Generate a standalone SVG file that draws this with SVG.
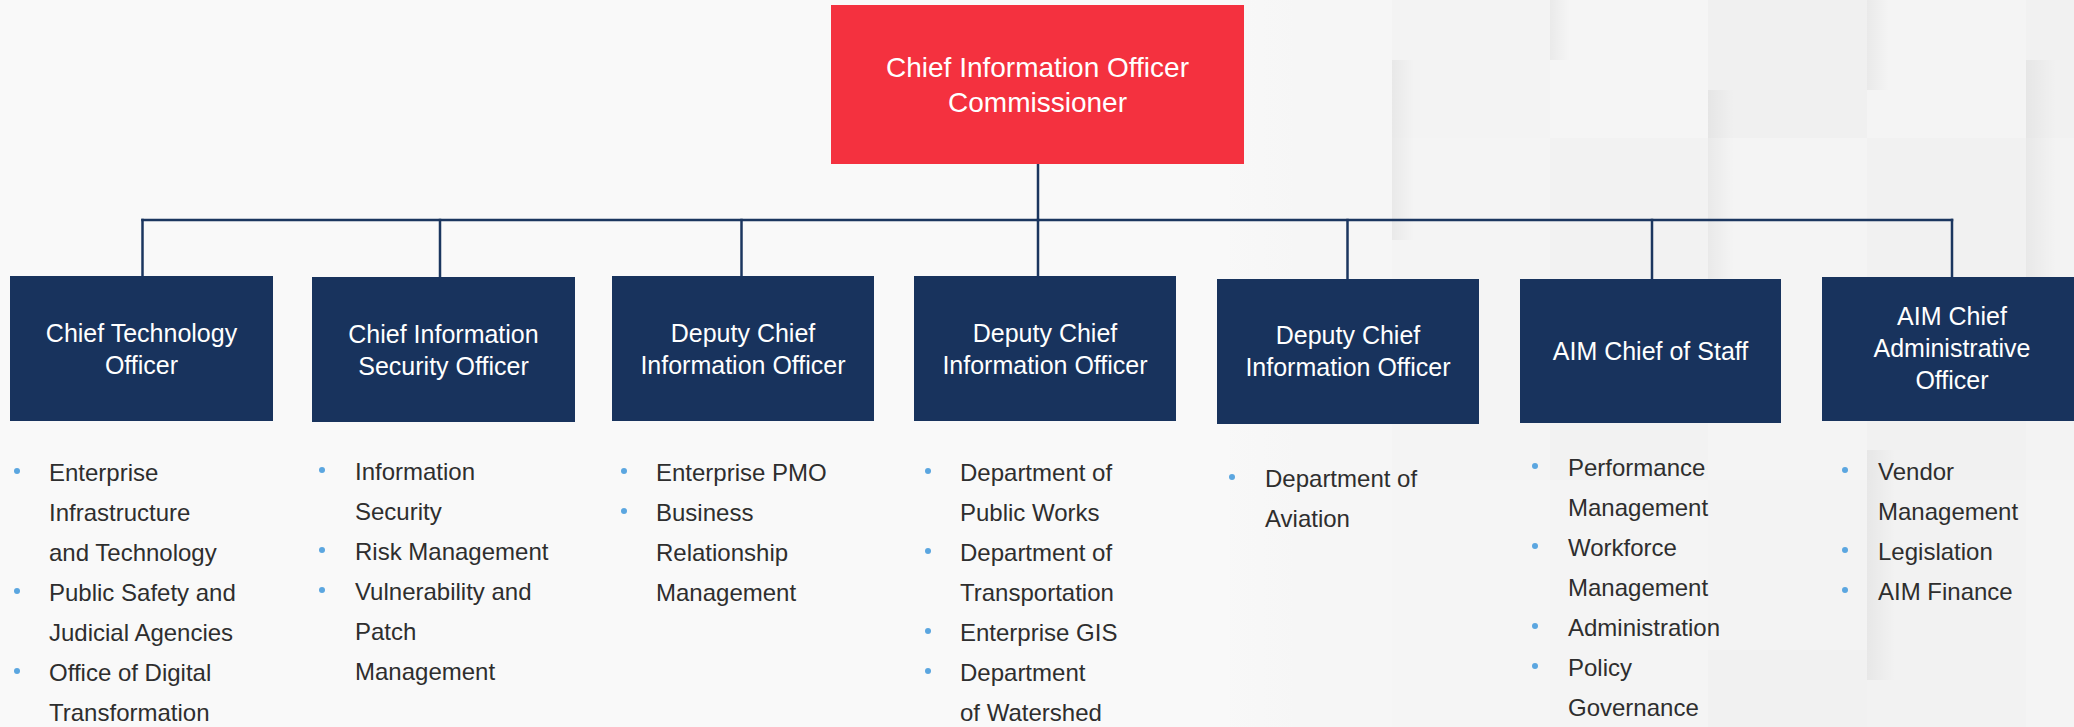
<svg xmlns="http://www.w3.org/2000/svg" width="2074" height="727" viewBox="0 0 2074 727">
  <style>
    .bg { fill: #f9f9f9; }
    .top { fill: #f4313f; }
    .unit { fill: #18335d; }
    .title { font-family: "Liberation Sans", Arial, sans-serif; font-size: 28px; fill: #ffffff; text-anchor: middle; }
    .label { font-family: "Liberation Sans", Arial, sans-serif; font-size: 25px; fill: #ffffff; text-anchor: middle; }
    .item { font-family: "Liberation Sans", Arial, sans-serif; font-size: 24px; fill: #2e2e2e; }
    .dot { fill: #5ba6e0; }
    .link { stroke: #1b365f; stroke-width: 2.5; fill: none; stroke-linecap: square; }
  </style>
  <defs>
    <linearGradient id="fadeIn" x1="0" y1="0" x2="1" y2="0">
      <stop offset="0" stop-color="#f9f9f9" stop-opacity="1"/>
      <stop offset="1" stop-color="#f9f9f9" stop-opacity="0"/>
    </linearGradient>
    <linearGradient id="shade" x1="0" y1="0" x2="1" y2="0">
      <stop offset="0" stop-color="#000000" stop-opacity="0.045"/>
      <stop offset="1" stop-color="#000000" stop-opacity="0"/>
    </linearGradient>
    <linearGradient id="shadeV" x1="0" y1="0" x2="0" y2="1">
      <stop offset="0" stop-color="#ffffff" stop-opacity="0"/>
      <stop offset="0.5" stop-color="#ffffff" stop-opacity="1"/>
      <stop offset="1" stop-color="#ffffff" stop-opacity="0"/>
    </linearGradient>
  </defs>

  <!-- background with soft tiled panels on the right -->
  <rect class="bg" x="0" y="0" width="2074" height="727"/>
  <g id="panels">
    <rect x="1230" y="0" width="162" height="727" fill="#f6f6f6"/>
    <rect x="1392" y="0" width="158" height="138" fill="#f3f3f3"/>
    <rect x="1550" y="0" width="158" height="138" fill="#f5f5f5"/>
    <rect x="1708" y="0" width="159" height="138" fill="#f0f0f0"/>
    <rect x="1867" y="0" width="159" height="138" fill="#f4f4f4"/>
    <rect x="2026" y="0" width="48" height="138" fill="#f1f1f1"/>
    <rect x="1392" y="138" width="158" height="342" fill="#f4f4f4"/>
    <rect x="1550" y="138" width="158" height="342" fill="#f2f2f2"/>
    <rect x="1708" y="138" width="159" height="342" fill="#f4f4f4"/>
    <rect x="1867" y="138" width="159" height="342" fill="#f1f1f1"/>
    <rect x="2026" y="138" width="48" height="342" fill="#f3f3f3"/>
    <rect x="1392" y="480" width="158" height="247" fill="#f5f5f5"/>
    <rect x="1550" y="480" width="158" height="247" fill="#f4f4f4"/>
    <rect x="1708" y="480" width="159" height="170" fill="#f3f3f3"/>
    <rect x="1708" y="650" width="159" height="77" fill="#f1f1f1"/>
    <rect x="1867" y="480" width="159" height="247" fill="#f2f2f2"/>
    <rect x="2026" y="480" width="48" height="247" fill="#f4f4f4"/>
    <rect x="1392" y="60" width="22" height="180" fill="url(#shade)"/>
    <rect x="1708" y="90" width="26" height="240" fill="url(#shade)"/>
    <rect x="1867" y="0" width="22" height="90" fill="url(#shade)"/>
    <rect x="1867" y="450" width="28" height="230" fill="url(#shade)"/>
    <rect x="2026" y="60" width="30" height="280" fill="url(#shade)"/>
    <rect x="1550" y="0" width="20" height="60" fill="url(#shade)"/>
    <rect x="1180" y="0" width="120" height="727" fill="url(#fadeIn)"/>
  </g>

  <!-- reporting lines -->
  <g id="connectors">
    <line class="link" x1="1038" y1="164" x2="1038" y2="220"/>
    <line class="link" x1="142.5" y1="220" x2="1952" y2="220"/>
    <line class="link" x1="142.5" y1="220" x2="142.5" y2="276"/>
    <line class="link" x1="440" y1="220" x2="440" y2="277"/>
    <line class="link" x1="741.5" y1="220" x2="741.5" y2="276"/>
    <line class="link" x1="1038" y1="220" x2="1038" y2="276"/>
    <line class="link" x1="1347.5" y1="220" x2="1347.5" y2="279"/>
    <line class="link" x1="1652" y1="220" x2="1652" y2="279"/>
    <line class="link" x1="1952" y1="220" x2="1952" y2="277"/>
  </g>

  <g id="cio">
    <rect class="top" x="831" y="5" width="413" height="159"/>
    <text class="title" x="1037.5" y="77">Chief Information Officer</text>
    <text class="title" x="1037.5" y="112">Commissioner</text>
  </g>

  <g id="cto">
    <rect class="unit" x="10" y="276" width="263" height="145"/>
    <text class="label" x="141.5" y="342">Chief Technology</text>
    <text class="label" x="141.5" y="374">Officer</text>
  </g>
  <g id="ciso">
    <rect class="unit" x="312" y="277" width="263" height="145"/>
    <text class="label" x="443.5" y="343">Chief Information</text>
    <text class="label" x="443.5" y="375">Security Officer</text>
  </g>
  <g id="dcio-1">
    <rect class="unit" x="612" y="276" width="262" height="145"/>
    <text class="label" x="743" y="342">Deputy Chief</text>
    <text class="label" x="743" y="374">Information Officer</text>
  </g>
  <g id="dcio-2">
    <rect class="unit" x="914" y="276" width="262" height="145"/>
    <text class="label" x="1045" y="342">Deputy Chief</text>
    <text class="label" x="1045" y="374">Information Officer</text>
  </g>
  <g id="dcio-3">
    <rect class="unit" x="1217" y="279" width="262" height="145"/>
    <text class="label" x="1348" y="344">Deputy Chief</text>
    <text class="label" x="1348" y="376">Information Officer</text>
  </g>
  <g id="chief-of-staff">
    <rect class="unit" x="1520" y="279" width="261" height="144"/>
    <text class="label" x="1650.5" y="360">AIM Chief of Staff</text>
  </g>
  <g id="cao">
    <rect class="unit" x="1822" y="277" width="262" height="144"/>
    <text class="label" x="1952" y="325">AIM Chief</text>
    <text class="label" x="1952" y="357">Administrative</text>
    <text class="label" x="1952" y="389">Officer</text>
  </g>

  <!-- responsibilities under each role -->
  <g id="list-cto">
    <circle class="dot" cx="17" cy="471" r="3"/>
    <circle class="dot" cx="17" cy="591" r="3"/>
    <circle class="dot" cx="17" cy="671" r="3"/>
    <text class="item" x="49" y="481">Enterprise</text>
    <text class="item" x="49" y="521">Infrastructure</text>
    <text class="item" x="49" y="561">and Technology</text>
    <text class="item" x="49" y="601">Public Safety and</text>
    <text class="item" x="49" y="641">Judicial Agencies</text>
    <text class="item" x="49" y="681">Office of Digital</text>
    <text class="item" x="49" y="721">Transformation</text>
  </g>
  <g id="list-ciso">
    <circle class="dot" cx="322" cy="470" r="3"/>
    <circle class="dot" cx="322" cy="550" r="3"/>
    <circle class="dot" cx="322" cy="590" r="3"/>
    <text class="item" x="355" y="480">Information</text>
    <text class="item" x="355" y="520">Security</text>
    <text class="item" x="355" y="560">Risk Management</text>
    <text class="item" x="355" y="600">Vulnerability and</text>
    <text class="item" x="355" y="640">Patch</text>
    <text class="item" x="355" y="680">Management</text>
  </g>
  <g id="list-dcio-1">
    <circle class="dot" cx="624" cy="471" r="3"/>
    <circle class="dot" cx="624" cy="511" r="3"/>
    <text class="item" x="656" y="481">Enterprise PMO</text>
    <text class="item" x="656" y="521">Business</text>
    <text class="item" x="656" y="561">Relationship</text>
    <text class="item" x="656" y="601">Management</text>
  </g>
  <g id="list-dcio-2">
    <circle class="dot" cx="928" cy="471" r="3"/>
    <circle class="dot" cx="928" cy="551" r="3"/>
    <circle class="dot" cx="928" cy="631" r="3"/>
    <circle class="dot" cx="928" cy="671" r="3"/>
    <text class="item" x="960" y="481">Department of</text>
    <text class="item" x="960" y="521">Public Works</text>
    <text class="item" x="960" y="561">Department of</text>
    <text class="item" x="960" y="601">Transportation</text>
    <text class="item" x="960" y="641">Enterprise GIS</text>
    <text class="item" x="960" y="681">Department</text>
    <text class="item" x="960" y="721">of Watershed</text>
  </g>
  <g id="list-dcio-3">
    <circle class="dot" cx="1232" cy="477" r="3"/>
    <text class="item" x="1265" y="487">Department of</text>
    <text class="item" x="1265" y="527">Aviation</text>
  </g>
  <g id="list-chief-of-staff">
    <circle class="dot" cx="1535" cy="466" r="3"/>
    <circle class="dot" cx="1535" cy="546" r="3"/>
    <circle class="dot" cx="1535" cy="626" r="3"/>
    <circle class="dot" cx="1535" cy="666" r="3"/>
    <text class="item" x="1568" y="476">Performance</text>
    <text class="item" x="1568" y="516">Management</text>
    <text class="item" x="1568" y="556">Workforce</text>
    <text class="item" x="1568" y="596">Management</text>
    <text class="item" x="1568" y="636">Administration</text>
    <text class="item" x="1568" y="676">Policy</text>
    <text class="item" x="1568" y="716">Governance</text>
  </g>
  <g id="list-cao">
    <circle class="dot" cx="1845" cy="470" r="3"/>
    <circle class="dot" cx="1845" cy="550" r="3"/>
    <circle class="dot" cx="1845" cy="590" r="3"/>
    <text class="item" x="1878" y="480">Vendor</text>
    <text class="item" x="1878" y="520">Management</text>
    <text class="item" x="1878" y="560">Legislation</text>
    <text class="item" x="1878" y="600">AIM Finance</text>
  </g>
</svg>
